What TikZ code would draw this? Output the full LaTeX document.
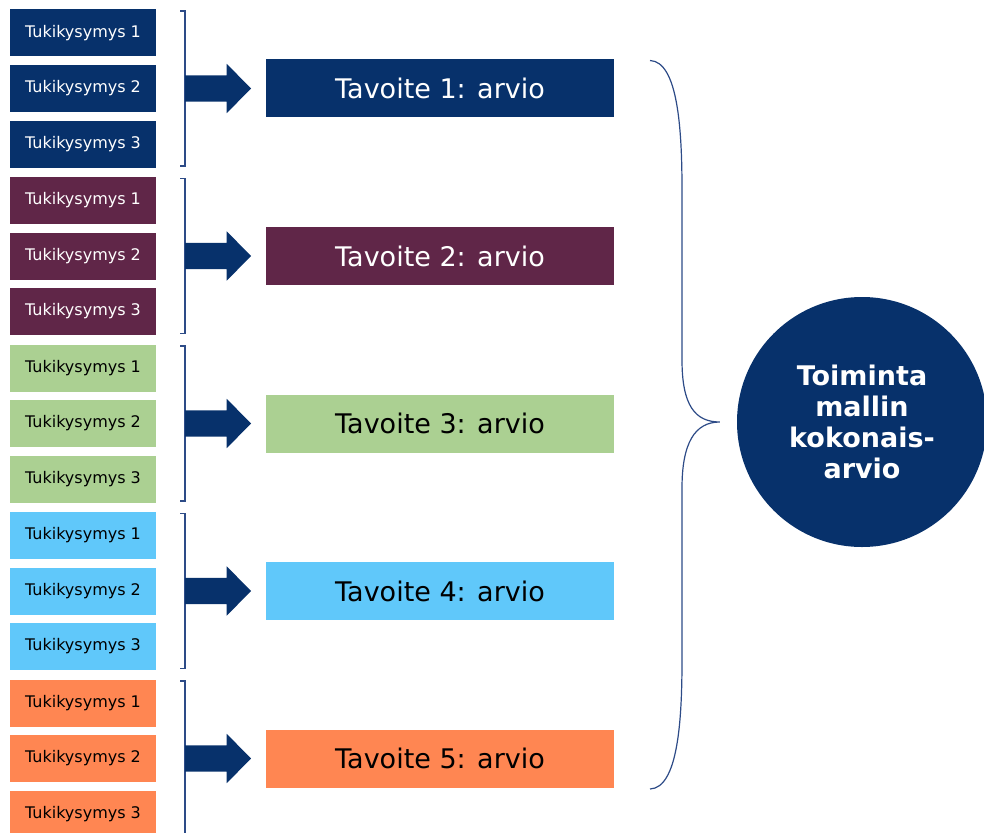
\documentclass[tikz,border=0pt]{standalone}
\usepackage{fontspec}
\setmainfont{DejaVu Sans}
\usetikzlibrary{positioning,shapes.arrows}
\definecolor{tnavy}{RGB}{7,49,107}
\definecolor{tpurple}{RGB}{96,38,72}
\definecolor{tgreen}{RGB}{171,208,146}
\definecolor{tblue}{RGB}{96,200,250}
\definecolor{torange}{RGB}{255,134,82}
\definecolor{tline}{RGB}{45,75,135}
\begin{document}
\begin{tikzpicture}[x=1pt, y=-1pt, every node/.style={font=\fontsize{16}{18}\selectfont},
  kysymys/.style={minimum width=146pt, minimum height=47pt, inner sep=0pt, outer sep=0pt},
  tavoite/.style={minimum width=348pt, minimum height=58pt, inner sep=0pt, outer sep=0pt, font=\fontsize{27}{30}\selectfont},
  nuoli/.style={single arrow, fill=tnavy, inner xsep=0pt, inner ysep=13pt, outer sep=0pt, minimum height=66pt,
    single arrow head extend=11.5pt, single arrow tip angle=91},
  sulku/.style={draw=tline, line width=1.2pt},
  g1/.style={fill=tnavy, text=white}, g2/.style={fill=tpurple, text=white},
  g3/.style={fill=tgreen, text=black}, g4/.style={fill=tblue, text=black},
  g5/.style={fill=torange, text=black}]
  \useasboundingbox (0,0) rectangle (984,832);
  % Tavoite 1
  \node[kysymys, g1] (q11) at (83,33) {Tukikysymys 1};
  \node[kysymys, g1, below=8.5pt of q11] (q12) {Tukikysymys 2};
  \node[kysymys, g1, below=8.5pt of q12] (q13) {Tukikysymys 3};
  \draw[sulku] ([xshift=24pt,yshift=-1.5pt]q11.north east) -- ++(5pt,0) |- ([xshift=24pt,yshift=1.5pt]q13.south east);
  \node[nuoli, right=29pt of q12] (a1) {};
  \node[tavoite, g1, right=15pt of a1] (t1) {Tavoite 1: arvio};
  % Tavoite 2
  \node[kysymys, g2, below=9.5pt of q13] (q21) {Tukikysymys 1};
  \node[kysymys, g2, below=8.5pt of q21] (q22) {Tukikysymys 2};
  \node[kysymys, g2, below=8.5pt of q22] (q23) {Tukikysymys 3};
  \draw[sulku] ([xshift=24pt,yshift=-1.5pt]q21.north east) -- ++(5pt,0) |- ([xshift=24pt,yshift=1.5pt]q23.south east);
  \node[nuoli, right=29pt of q22] (a2) {};
  \node[tavoite, g2, right=15pt of a2] (t2) {Tavoite 2: arvio};
  % Tavoite 3
  \node[kysymys, g3, below=9.5pt of q23] (q31) {Tukikysymys 1};
  \node[kysymys, g3, below=8.5pt of q31] (q32) {Tukikysymys 2};
  \node[kysymys, g3, below=8.5pt of q32] (q33) {Tukikysymys 3};
  \draw[sulku] ([xshift=24pt,yshift=-1.5pt]q31.north east) -- ++(5pt,0) |- ([xshift=24pt,yshift=1.5pt]q33.south east);
  \node[nuoli, right=29pt of q32] (a3) {};
  \node[tavoite, g3, right=15pt of a3] (t3) {Tavoite 3: arvio};
  % Tavoite 4
  \node[kysymys, g4, below=9.5pt of q33] (q41) {Tukikysymys 1};
  \node[kysymys, g4, below=8.5pt of q41] (q42) {Tukikysymys 2};
  \node[kysymys, g4, below=8.5pt of q42] (q43) {Tukikysymys 3};
  \draw[sulku] ([xshift=24pt,yshift=-1.5pt]q41.north east) -- ++(5pt,0) |- ([xshift=24pt,yshift=1.5pt]q43.south east);
  \node[nuoli, right=29pt of q42] (a4) {};
  \node[tavoite, g4, right=15pt of a4] (t4) {Tavoite 4: arvio};
  % Tavoite 5
  \node[kysymys, g5, below=9.5pt of q43] (q51) {Tukikysymys 1};
  \node[kysymys, g5, below=8.5pt of q51] (q52) {Tukikysymys 2};
  \node[kysymys, g5, below=8.5pt of q52] (q53) {Tukikysymys 3};
  \draw[sulku] ([xshift=24pt,yshift=-1.5pt]q51.north east) -- ++(5pt,0) |- ([xshift=24pt,yshift=1.5pt]q53.south east);
  \node[nuoli, right=29pt of q52] (a5) {};
  \node[tavoite, g5, right=15pt of a5] (t5) {Tavoite 5: arvio};
  % Kokonaisarvio
  \node[circle, fill=tnavy, text=white, minimum size=250pt, inner sep=0pt, align=center,
    font=\fontsize{27}{31}\selectfont\bfseries] (kok) at (862,422) {Toiminta\\mallin\\kokonais-\\arvio};
  % Aaltosulku
  \coordinate (ya) at ([xshift=36pt,yshift=-1pt]t1.north east);
  \coordinate (ka) at ([xshift=36pt,yshift=-1.5pt]t5.south east);
  \coordinate (kp) at ([xshift=-17pt]kok.west);
  \draw[sulku] (ya) .. controls +(28,1) and +(0,-60) .. (682,190) -- (682,360)
    .. controls +(0,45) and +(-25,0) .. (kp) .. controls +(-25,0) and +(0,-45) .. (682,488)
    -- (682,660) .. controls +(0,60) and +(28,-1) .. (ka);
\end{tikzpicture}
\end{document}
